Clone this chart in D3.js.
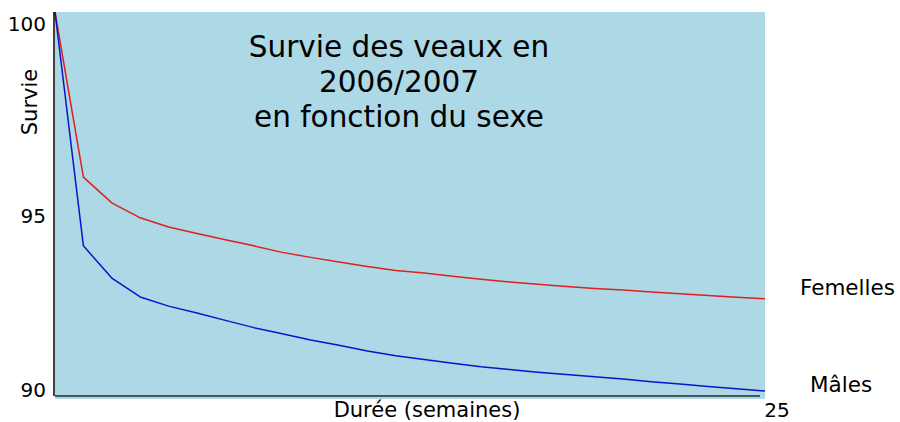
<!DOCTYPE html>
<html><head><meta charset="utf-8">
<script src="https://cdn.jsdelivr.net/npm/d3@7"></script>
<style>body{margin:0;background:#fff}svg{display:block}text{font-family:"DejaVu Sans",Verdana,sans-serif;fill:#000}</style>
</head><body>
<script>
const weeks = d3.range(0, 26);
const femelles = [100, 95.70, 95.03, 94.64, 94.40, 94.23, 94.07, 93.91, 93.74, 93.61, 93.49, 93.37, 93.27, 93.20, 93.12, 93.04, 92.97, 92.91, 92.85, 92.80, 92.76, 92.71, 92.66, 92.62, 92.57, 92.53];
const males = [100, 93.91, 93.07, 92.58, 92.34, 92.16, 91.97, 91.78, 91.62, 91.46, 91.32, 91.17, 91.05, 90.95, 90.85, 90.76, 90.69, 90.62, 90.56, 90.50, 90.44, 90.37, 90.31, 90.25, 90.19, 90.13];
const yTicks = [90, 95, 100];
const xTicks = [25];
const seriesNames = ["Femelles", "Mâles"];
const titleLines = ["Survie des veaux en", "2006/2007", "en fonction du sexe"];

const W = 900, H = 422;
const svg = d3.select("body").append("svg").attr("width", W).attr("height", H);
const x = d3.scaleLinear().domain([0, 25]).range([55, 765]);
const y = d3.scaleLinear().domain([90, 100]).range([396, 12]);

svg.append("rect").attr("x", x(0)).attr("y", y(100)).attr("width", x(25) - x(0)).attr("height", 399 - y(100)).attr("fill", "#add8e6");

// title
svg.append("text").attr("text-anchor", "middle").attr("font-size", 29.5)
  .selectAll("tspan").data(titleLines).join("tspan")
  .attr("x", 399).attr("y", (d, i) => 57 + i * 35).text(d => d);

const line = d3.line().x((d, i) => x(weeks[i])).y(d => y(d));
const colors = ["#dd2020", "#0a14c8"];
[femelles, males].forEach((s, k) => {
  svg.append("path").datum(s).attr("d", line).attr("fill", "none")
    .attr("stroke", colors[k]).attr("stroke-width", 1.5).attr("stroke-linejoin", "round");
});

// axes lines
svg.append("line").attr("x1", x(0) - 1).attr("x2", x(0) - 1).attr("y1", y(100)).attr("y2", y(90)).attr("stroke", "#000").attr("stroke-width", 1.5);
svg.append("line").attr("x1", x(0)).attr("x2", x(25) - 5).attr("y1", y(90)).attr("y2", y(90)).attr("stroke", "#4a5558").attr("stroke-width", 2);

// y tick labels
svg.selectAll(".yt").data(yTicks).join("text").attr("class", "yt")
  .attr("x", 46).attr("y", d => Math.min(Math.max(y(d) + 12, 23), 390))
  .attr("dy", "0.35em").attr("text-anchor", "end").attr("font-size", 20).text(d => d);

// x tick label
svg.selectAll(".xt").data(xTicks).join("text").attr("class", "xt")
  .attr("x", d => x(d) + 12).attr("y", 410).attr("dy", "0.35em").attr("text-anchor", "middle").attr("font-size", 20).text(d => d);

svg.append("text").attr("x", 427).attr("y", 410).attr("dy", "0.35em").attr("text-anchor", "middle").attr("font-size", 21).text("Durée (semaines)");
svg.append("text").attr("transform", "translate(30,102) rotate(-90)").attr("dy", "0.35em").attr("text-anchor", "middle").attr("font-size", 21).text("Survie");

// series labels
const lastF = femelles[femelles.length - 1], lastM = males[males.length - 1];
svg.append("text").attr("x", 800).attr("y", y(lastF) - 11).attr("dy", "0.35em").attr("font-size", 21.5).text(seriesNames[0]);
svg.append("text").attr("x", 810).attr("y", y(lastM) - 7).attr("dy", "0.35em").attr("font-size", 21.5).text(seriesNames[1]);
</script>
</body></html>
